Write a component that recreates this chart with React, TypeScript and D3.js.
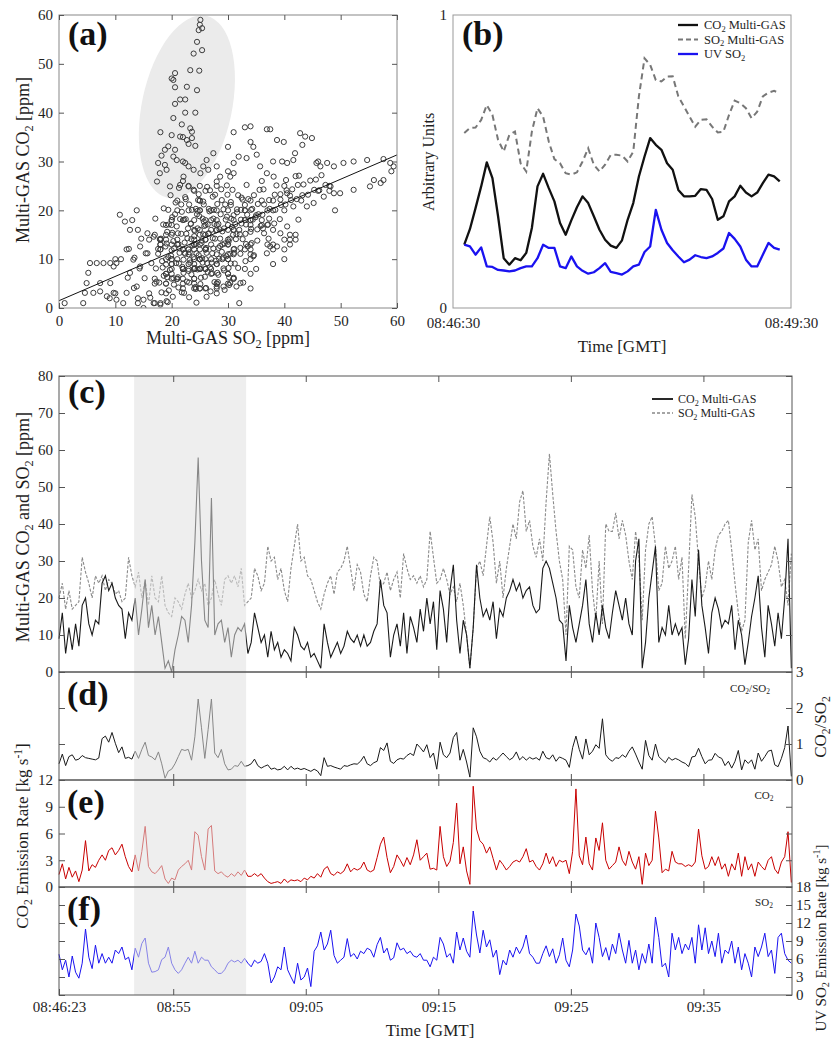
import React, { useEffect, useRef } from 'react';
import * as d3 from 'd3';

const FONT = '"Liberation Serif", "Times New Roman", Times, serif';
const INK = '#1e1e1e';
const W = 833;
const H = 1042;

// ---- panels (c)-(f): one sample every 15 s from 08:46:23 ----
const DAY = [2013, 0, 1] as const;
const START = '08:46:23';
const END = '09:41:41';
const STEP_S = 15;
const TICK_TIMES = ['08:55', '09:05', '09:15', '09:25', '09:35'];
const SHADE = ['08:52:03', '09:00:30'];

// (c) Multi-GAS CO2 [ppm]
const co2Ppm = [
  9, 16, 5, 12, 6, 13, 7, 18, 20, 13,
  10, 14, 13, 24, 26, 22, 24, 20, 18, 17,
  9, 16, 14, 20, 10, 17, 25, 12, 18, 10,
  15, 8, 1, 3, 0, 6, 10, 15, 14, 8,
  18, 35, 58, 30, 14, 12, 47, 10, 13, 14,
  8, 12, 4, 10, 12, 11, 13, 5, 8, 16,
  12, 8, 10, 4, 11, 6, 8, 4, 6, 5,
  3, 12, 10, 7, 6, 8, 4, 5, 3, 1,
  13, 8, 4, 6, 8, 5, 7, 11, 9, 8,
  10, 7, 10, 7, 8, 11, 13, 25, 18, 16,
  4, 10, 13, 7, 16, 5, 15, 12, 8, 17,
  11, 20, 13, 19, 6, 22, 17, 8, 22, 29,
  14, 5, 14, 10, 1, 12, 29, 20, 15, 17,
  14, 19, 9, 17, 15, 20, 22, 25, 22, 24,
  20, 22, 23, 18, 16, 17, 28, 30, 28, 24,
  20, 14, 13, 3, 18, 12, 8, 13, 18, 25,
  13, 8, 16, 10, 18, 12, 9, 16, 22, 18,
  14, 20, 13, 10, 30, 36, 1, 8, 20, 27,
  34, 8, 12, 10, 18, 10, 13, 10, 12, 2,
  9, 25, 15, 33, 18, 12, 5, 16, 20, 17,
  12, 14, 13, 18, 6, 14, 10, 2, 8, 15,
  20, 26, 12, 4, 18, 13, 7, 16, 9, 20,
  36, 1,
];

// (c) Multi-GAS SO2 [ppm]
const so2Ppm = [
  20, 24, 17, 22, 17, 18, 19, 31, 27, 24,
  20, 26, 24, 26, 22, 25, 24, 21, 22, 19,
  20, 31, 26, 23, 27, 20, 25, 18, 26, 20,
  19, 26, 18, 16, 15, 20, 19, 17, 21, 24,
  20, 22, 25, 22, 24, 18, 20, 25, 21, 18,
  25, 26, 24, 26, 23, 28, 18, 19, 20, 28,
  26, 22, 24, 34, 30, 31, 25, 28, 22, 19,
  28, 34, 40, 30, 31, 26, 25, 22, 19, 17,
  21, 24, 26, 21, 27, 28, 30, 34, 28, 22,
  29, 27, 21, 19, 26, 31, 30, 23, 24, 27,
  22, 25, 27, 20, 32, 28, 25, 26, 24, 26,
  23, 25, 38, 31, 24, 25, 28, 25, 21, 23,
  19, 24, 18, 10, 1, 12, 28, 30, 26, 34,
  42, 35, 24, 30, 20, 28, 34, 40, 36, 46,
  49, 38, 41, 34, 31, 36, 30, 46, 59, 48,
  38, 30, 25, 10, 34, 33, 23, 20, 33, 28,
  37, 22, 14, 30, 13, 40, 38, 38, 43, 36,
  41, 37, 30, 25, 38, 31, 14, 33, 40, 42,
  34, 22, 24, 34, 28, 30, 34, 25, 31, 9,
  28, 48, 42, 30, 20, 23, 30, 25, 33, 37,
  38, 40, 41, 33, 24, 16, 11, 14, 35, 41,
  33, 36, 22, 25, 27, 29, 34, 30, 23, 25,
  18, 32,
];

// (d) CO2/SO2
const ratio = [
  0.45, 0.72, 0.40, 0.65, 0.70, 0.55, 0.58, 0.68, 0.62, 0.60,
  0.58, 0.56, 0.61, 1.15, 1.22, 1.05, 1.32, 1.02, 0.76, 0.92,
  0.60, 0.63, 0.58, 0.80, 0.60, 0.85, 1.05, 0.68, 0.64, 0.56,
  0.78, 0.45, 0.05, 0.25, 0.30, 0.45, 0.65, 0.85, 0.82, 0.85,
  0.55, 1.20, 2.25, 1.45, 0.60, 1.40, 2.25, 0.75, 0.62, 0.85,
  0.45, 0.28, 0.30, 0.40, 0.38, 0.52, 0.38, 0.40, 0.45, 0.58,
  0.40, 0.33, 0.38, 0.42, 0.30, 0.33, 0.28, 0.30, 0.38, 0.28,
  0.38, 0.30, 0.33, 0.29, 0.32, 0.28, 0.24, 0.30, 0.25, 0.12,
  0.62, 0.38, 0.40, 0.36, 0.33, 0.30, 0.40, 0.38, 0.42, 0.45,
  0.44, 0.52, 0.66, 0.45, 0.40, 0.48, 0.52, 0.90, 0.82, 1.03,
  0.52, 0.46, 0.56, 0.60, 0.58, 0.68, 0.74, 0.68, 1.00, 0.90,
  0.78, 0.98, 0.62, 0.75, 0.30, 1.05, 0.70, 0.62, 0.75, 1.18,
  1.32, 0.55, 0.85, 0.50, 0.08, 1.45, 1.20, 0.80, 0.62, 0.58,
  0.50, 0.62, 0.55, 0.65, 0.75, 0.65, 0.56, 0.62, 0.78, 0.56,
  0.65, 0.55, 0.63, 0.58, 0.62, 0.55, 0.80, 0.62, 0.58, 0.70,
  0.52, 0.64, 0.60, 0.55, 0.35, 0.90, 1.22, 0.85, 0.58, 1.14,
  0.70, 0.80, 0.98, 0.88, 1.70, 0.70, 0.58, 0.52, 0.62, 0.60,
  0.70, 0.63, 0.80, 0.92, 0.72, 0.50, 0.30, 1.10, 0.68, 0.55,
  1.00, 0.65, 0.56, 0.48, 0.63, 0.55, 0.60, 0.56, 0.50, 0.46,
  0.37, 0.64, 0.66, 0.88, 0.65, 0.45, 0.55, 0.56, 0.74, 0.64,
  0.60, 0.40, 0.52, 0.33, 0.52, 0.82, 0.28, 0.56, 0.46, 0.56,
  0.30, 0.75, 0.52, 0.65, 0.80, 0.83, 0.42, 0.37, 0.60, 0.90,
  1.50, 0.10,
];

// (e) CO2 emission rate [kg/s]
const co2Flux = [
  1.4, 2.6, 0.9, 2.2, 1.1, 1.8, 0.6, 1.9, 5.2, 1.8,
  2.5, 2.2, 3.0, 3.6, 3.0, 4.1, 4.4, 3.6, 4.1, 4.8,
  3.4, 2.3, 1.7, 3.6, 1.8, 4.0, 6.8, 2.3, 1.7, 1.5,
  1.9, 2.4, 0.9, 0.4, 1.0, 0.8, 1.9, 2.3, 2.6, 3.0,
  1.9, 6.2, 5.8, 3.4, 1.9, 6.5, 6.9, 1.8, 1.5, 1.7,
  1.3, 1.1, 1.5, 1.2, 1.7, 1.3, 1.9, 1.2, 1.2, 1.5,
  1.2, 1.5, 1.0, 0.6, 0.4, 0.5, 0.6, 0.4, 0.9, 0.5,
  0.8, 0.7, 0.8, 0.6, 1.0, 0.8, 1.2, 1.0, 1.5, 1.1,
  2.0, 2.3, 1.5, 1.3, 1.7, 1.5, 1.8, 2.6, 1.7, 2.1,
  1.9, 2.1, 2.8, 1.9, 1.7, 1.9, 3.3, 4.8, 5.6, 3.3,
  1.6, 2.3, 3.6, 3.0, 2.3, 3.3, 2.5, 3.6, 5.3, 3.0,
  3.4, 3.8, 2.0, 2.1, 1.9, 6.8, 3.4, 2.3, 2.9, 5.0,
  9.4, 2.6, 4.5, 1.8, 0.3, 11.3, 6.5, 5.2, 4.8, 3.8,
  4.5, 3.2, 1.9, 3.0, 2.5, 1.9, 2.3, 2.8, 3.0, 2.8,
  3.4, 4.3, 2.8, 3.0, 2.3, 1.9, 2.6, 3.8, 2.6, 3.4,
  2.3, 3.0, 2.8, 3.0, 1.5, 4.0, 11.0, 3.5, 2.5, 5.6,
  2.6, 1.9, 5.5, 4.1, 7.2, 3.0, 2.0, 2.4, 2.8, 4.5,
  3.0, 2.4, 4.0, 2.8, 2.0, 3.4, 0.3, 3.8, 2.4, 3.0,
  8.5, 5.5, 1.6, 2.0, 1.8, 4.0, 2.8, 2.6, 2.6, 2.3,
  2.5, 2.3, 2.8, 6.5, 3.5, 2.0, 2.3, 3.4, 2.4, 3.4,
  2.0, 2.6, 1.2, 2.6, 1.9, 3.8, 1.2, 3.4, 1.9, 2.6,
  1.2, 2.8, 2.3, 1.9, 3.0, 3.4, 2.0, 1.5, 2.8, 3.4,
  6.2, 0.5,
];

// (f) UV SO2 emission rate [kg/s]
const so2Flux = [
  6.8, 4.2, 5.8, 3.0, 6.5, 3.8, 2.8, 5.3, 11.0, 6.3,
  4.4, 8.3, 5.3, 6.9, 5.3, 6.3, 5.3, 7.5, 6.9, 8.0,
  5.9, 6.3, 4.2, 7.8, 6.3, 8.6, 9.5, 5.3, 3.8, 3.9,
  4.2, 5.9, 6.3, 8.0, 5.3, 4.2, 3.6, 4.2, 5.3, 6.3,
  5.3, 7.3, 5.3, 6.3, 5.8, 5.8, 4.7, 4.2, 3.6, 3.6,
  4.2, 5.3, 5.8, 5.5, 5.8, 5.3, 6.1, 5.3, 4.7, 5.8,
  5.3, 5.6, 6.9, 5.3, 2.0, 3.0, 4.7, 4.2, 8.0, 4.2,
  3.0, 1.9, 5.3, 2.5, 3.0, 4.5, 1.4, 7.3, 8.2, 10.5,
  7.5, 8.5, 10.8, 6.6, 5.3, 5.8, 6.3, 9.4, 6.4, 6.9,
  6.0, 7.3, 6.9, 7.8, 7.5, 6.3, 8.4, 9.6, 7.0, 7.8,
  5.8, 6.2, 8.7, 7.5, 7.8, 6.9, 7.3, 6.5, 6.3, 6.9,
  5.8, 5.8, 4.7, 6.3, 5.8, 9.6, 8.5, 6.3, 6.9, 5.3,
  10.5, 7.5, 9.5, 7.3, 6.3, 14.0, 10.0, 7.0, 10.8, 8.0,
  9.2, 6.3, 7.5, 3.4, 5.8, 5.0, 7.5, 6.3, 8.0, 6.9,
  8.0, 10.0, 6.9, 6.3, 5.3, 5.3, 6.9, 8.2, 6.4, 7.7,
  5.3, 6.7, 9.5, 5.8, 4.7, 7.5, 13.5, 11.5, 7.5, 6.7,
  7.9, 5.3, 12.0, 9.6, 6.4, 7.9, 5.8, 8.5, 6.9, 10.3,
  7.5, 5.3, 9.1, 5.3, 7.5, 4.2, 6.9, 5.3, 8.5, 5.3,
  13.0, 9.6, 4.7, 5.3, 3.0, 10.3, 7.5, 9.6, 6.9, 8.5,
  7.5, 9.6, 5.3, 11.7, 7.5, 11.2, 6.9, 9.0, 6.4, 10.3,
  5.3, 7.5, 6.9, 9.0, 5.3, 8.0, 4.2, 6.9, 5.3, 3.0,
  8.0, 6.4, 8.0, 10.3, 6.4, 7.5, 3.6, 9.6, 10.3, 6.9,
  5.8, 5.3,
];

// ---- panel (b): seconds after 08:46:30, one sample every 3 s from 6 s ----
const B_FIRST_S = 6;
const B_STEP_S = 3;
const bCo2 = [
  0.216, 0.269, 0.341, 0.415, 0.497, 0.443, 0.313, 0.170, 0.148, 0.170,
  0.163, 0.188, 0.273, 0.415, 0.458, 0.409, 0.364, 0.290, 0.250, 0.299,
  0.344, 0.381, 0.358, 0.313, 0.267, 0.233, 0.213, 0.205, 0.231, 0.301,
  0.358, 0.449, 0.517, 0.580, 0.557, 0.540, 0.494, 0.472, 0.403, 0.381,
  0.381, 0.383, 0.406, 0.403, 0.372, 0.301, 0.313, 0.364, 0.381, 0.417,
  0.394, 0.381, 0.394, 0.426, 0.455, 0.449, 0.432,
];
const bSo2 = [
  0.597, 0.614, 0.616, 0.642, 0.693, 0.659, 0.574, 0.534, 0.591, 0.602,
  0.494, 0.466, 0.602, 0.682, 0.653, 0.568, 0.508, 0.494, 0.460, 0.455,
  0.463, 0.500, 0.545, 0.489, 0.466, 0.489, 0.522, 0.523, 0.520, 0.500,
  0.534, 0.722, 0.852, 0.830, 0.778, 0.773, 0.790, 0.791, 0.722, 0.688,
  0.653, 0.619, 0.642, 0.644, 0.619, 0.599, 0.602, 0.659, 0.708, 0.699,
  0.682, 0.648, 0.670, 0.722, 0.735, 0.741, 0.733,
];
const bUv = [
  0.216, 0.210, 0.182, 0.207, 0.142, 0.140, 0.130, 0.128, 0.125, 0.128,
  0.136, 0.142, 0.142, 0.170, 0.216, 0.205, 0.205, 0.142, 0.136, 0.176,
  0.142, 0.127, 0.117, 0.122, 0.136, 0.153, 0.123, 0.119, 0.114, 0.125,
  0.142, 0.148, 0.191, 0.210, 0.335, 0.267, 0.222, 0.197, 0.176, 0.156,
  0.165, 0.180, 0.174, 0.170, 0.176, 0.188, 0.203, 0.256, 0.236, 0.210,
  0.165, 0.142, 0.142, 0.182, 0.222, 0.205, 0.199,
];

// ---- panel (a): extra scatter points [SO2, CO2] besides the (c) pairs ----
const FIT = { intercept: 1.5, slope: 0.4975 };
const ELLIPSE_CENTER = [22.7, 41.2];
const scatterCloud: [number, number][] = [
  [10.8, 19.1], [13.8, 20], [11.7, 17.7], [12.6, 16], [5.5, 9.2], [6.7, 9.2], [7.9, 9.2], [9.1, 9.2],
  [9.7, 8.5], [10.2, 9.2], [5.2, 7.2], [4.9, 5.1], [4.6, 3.1], [4.3, 1], [6.1, 3.1], [7.3, 3.4],
  [8.5, 2.4], [9.7, 3.1], [10.2, 1.7], [11.4, 1], [12, 3.1], [9.1, 5.1], [7.3, 5.1], [12.6, 7.2],
  [13.2, 9.9], [14.4, 12.6], [15.7, 15.3], [15.7, 11.2], [14.4, 8.5], [13.8, 4.4], [15, 1.7], [16.8, 1],
  [18, 0.7], [19.1, 1.4],
  [33, 37], [34, 37.2], [36.9, 36.6], [37.5, 36.6], [38.7, 34.4], [39.9, 34], [42.8, 35.8], [43.7, 35.1],
  [44.9, 34.8], [43.2, 33.4], [41.9, 31.7], [40.5, 29.7], [39.6, 30], [34.5, 33], [35.1, 31.4], [33.3, 30.7],
  [31.9, 31], [31, 29.7], [35.7, 29], [36.9, 27.6], [38.1, 26.9], [41.6, 30.3], [45.7, 29.7], [46.4, 29],
  [47.6, 29.7], [48.8, 29], [50.5, 29.7], [52.3, 30], [54.7, 30.3], [57.6, 30.5], [58.8, 29.7], [59.4, 29],
  [55.9, 26.2], [57.1, 25.6], [57.6, 26.2], [55.2, 24.9], [52.3, 24.2], [49.9, 23.5], [48.8, 23.5], [48.2, 24.9],
  [47, 22.8], [45.2, 21.5], [44, 20.8], [42.5, 18.1], [41.6, 20.8], [40.5, 23.5], [39.3, 22.2], [40.5, 16.7],
  [39.3, 15.3], [38.7, 12.6], [37.5, 12.6], [36.9, 11.2], [34.5, 10.6], [32.2, 5.1], [31.5, 4.4], [30.4, 5.1],
  [29.2, 4.4], [28, 4.4],
  [25.1, 59], [25.4, 57.3], [24.8, 56.9], [24.5, 54.5], [23.9, 52.1], [25.4, 52.8], [23.3, 48.7], [24.9, 48.6],
  [20.6, 48.1], [20.3, 46.7], [20.6, 45.2], [22.7, 45.3], [21.5, 42.7], [22.4, 42.7], [24.5, 44.6], [20.6, 41.8],
  [22.4, 40], [24.2, 40], [20.3, 38.9], [21.8, 37.6], [23.3, 36.8], [23.6, 36.1], [20, 35.4], [21.5, 35.1],
  [22.7, 34.4], [23.6, 34.8], [23, 33.6], [24.2, 33.2], [19.4, 33.1], [18.8, 32.4], [20.6, 32.4], [18.2, 31.2],
  [20.3, 31], [17.6, 29.7], [18.8, 29.3], [20.9, 30.3], [22.4, 29.7], [26.2, 30.3], [27.4, 31.7], [25.6, 29],
  [23.9, 28.3], [19.1, 28.3], [17.9, 27.6], [17.4, 25.9], [22.1, 26.9], [25.1, 27.6], [26.5, 28.3], [19.7, 24.9],
  [21.5, 25.2], [23, 24.9], [28, 25.9], [28.6, 26.9], [30.4, 26.9], [31, 27.6],
  [16.4, 9.2], [16.8, 14.6], [17.3, 5.4], [17.1, 18.3], [17.6, 12.1], [18.2, 3.2], [18.4, 8.3], [18.1, 14.2],
  [18.6, 20.4], [19.2, 6.3], [19.4, 10.4], [19.1, 13.2], [19.5, 17.1], [20.2, 2.3], [20.3, 6.1], [20.4, 12.2],
  [20.1, 15.4], [20.6, 19.2], [21.2, 4.2], [21.3, 9.1], [21.4, 11.3], [21.1, 15.3], [21.5, 18.2], [21.7, 21.2],
  [22.2, 3.1], [22.1, 7.2], [22.4, 11.1], [22.3, 13.4], [22.6, 15.2], [22.2, 18.1], [22.5, 22.3], [23.1, 5.2],
  [23.3, 9.3], [23.2, 11.4], [23.5, 14.1], [23.4, 17.2], [23.6, 20.1], [24.2, 4.3], [24.1, 8.2], [24.4, 11.2],
  [24.3, 13.1], [24.6, 16.3], [24.5, 19.2], [24.7, 22.1], [25.2, 6.2], [25.1, 8.1], [25.4, 10.2], [25.3, 13.3],
  [25.6, 15.1], [25.5, 18.3], [25.7, 21.2], [26.1, 4.1], [26.3, 9.2], [26.2, 11.3], [26.5, 15.2], [26.4, 17.1],
  [26.6, 20.3], [26.8, 24.1], [27.2, 7.1], [27.1, 9.3], [27.4, 12.2], [27.3, 14.3], [27.6, 17.2], [27.5, 20.1],
  [27.7, 23.2], [28.2, 5.3], [28.1, 7.2], [28.4, 10.1], [28.3, 12.3], [28.6, 14.2], [28.5, 16.1], [28.7, 19.2],
  [28.9, 22.1], [29.2, 8.1], [29.1, 10.3], [29.4, 13.2], [29.3, 16.3], [29.6, 18.1], [29.5, 21.2], [29.8, 25.1],
  [30.2, 6.3], [30.1, 8.2], [30.4, 11.1], [30.3, 14.2], [30.6, 18.3], [30.5, 21.1], [30.8, 24.2], [31.2, 9.1],
  [31.1, 11.3], [31.4, 14.1], [31.3, 17.2], [31.6, 20.2], [31.8, 23.1], [32.2, 12.3], [32.1, 15.1], [32.4, 17.3],
  [32.3, 20.1], [32.6, 22.2], [33.2, 13.1], [33.1, 15.2], [33.4, 19.1], [33.6, 22.3], [33.3, 25.2], [34.2, 13.3],
  [34.1, 16.2], [34.4, 18.1], [34.3, 20.3], [34.6, 23.1], [35.2, 16.1], [35.4, 19.2], [35.3, 21.3], [35.6, 24.2],
  [36.2, 16.3], [36.1, 19.1], [36.4, 21.2], [36.3, 24.3], [37.2, 14.2], [37.1, 17.1], [37.4, 20.3], [37.3, 22.1],
  [38.2, 17.3], [38.4, 20.1], [38.3, 23.2], [38.6, 25.1], [39.2, 18.2], [39.4, 21.1], [39.3, 23.3], [40.2, 21.2],
  [40.4, 24.1], [40.3, 26.2], [41.2, 22.1], [41.4, 24.3], [42.2, 22.3], [42.4, 25.2], [42.6, 27.1], [43.2, 23.1],
  [43.4, 25.3], [44.2, 23.2], [44.6, 26.1], [45.3, 24.2], [45.6, 26.3], [46.2, 24.1], [46.6, 27.2], [47.3, 25.2],
  [15.2, 6.1], [15.4, 11.2], [14.3, 8.1], [14.6, 14.2], [13.4, 10.3], [12.4, 12.1], [12.2, 6.2], [13.3, 4.1],
  [16.2, 2.1], [19.3, 1.2], [23.1, 2.2], [26.2, 2.3], [24.4, 1.1],
];

// dense core of the cloud [SO2, CO2]
const scatterCore: [number, number][] = [
  [19.5, 3.6], [21.8, 3.2], [24.3, 3.9], [26.9, 3.4], [29.4, 3.7],
  [17.8, 5.2], [20.4, 4.8], [22.7, 5.4], [25.1, 4.9], [27.6, 5.3], [30.2, 4.7], [32.7, 5.2],
  [18.6, 6.6], [21.1, 6.3], [23.5, 6.9], [25.9, 6.4], [28.3, 6.8], [31.0, 6.2],
  [17.2, 8.1], [19.7, 7.8], [21.9, 8.4], [24.6, 7.9], [26.8, 8.3], [29.3, 7.7], [31.8, 8.2],
  [18.3, 9.6], [20.8, 9.2], [23.2, 9.8], [25.5, 9.3], [27.9, 9.7], [30.5, 9.1], [33.1, 9.6],
  [17.6, 11.1], [19.9, 10.7], [22.3, 11.3], [24.8, 10.8], [27.2, 11.2], [29.7, 10.6], [32.2, 11.1], [34.6, 10.8],
  [18.9, 12.6], [21.4, 12.2], [23.7, 12.8], [26.1, 12.3], [28.6, 12.7], [31.1, 12.1], [33.5, 12.6],
  [17.9, 14.1], [20.3, 13.7], [22.8, 14.3], [25.3, 13.8], [27.7, 14.2], [30.1, 13.6], [32.6, 14.1], [35.2, 13.8],
  [19.2, 15.6], [21.7, 15.2], [24.1, 15.8], [26.6, 15.3], [29.0, 15.7], [31.5, 15.1], [34.0, 15.6], [36.4, 15.3],
  [18.5, 17.1], [20.9, 16.7], [23.4, 17.3], [25.8, 16.8], [28.3, 17.2], [30.7, 16.6], [33.2, 17.1], [35.8, 16.8],
  [20.1, 18.6], [22.5, 18.2], [24.9, 18.8], [27.4, 18.3], [29.8, 18.7], [32.3, 18.1], [34.9, 18.6], [37.3, 18.3],
  [19.4, 20.1], [21.8, 19.7], [24.3, 20.3], [26.7, 19.8], [29.2, 20.2], [31.6, 19.6], [34.1, 20.1],
  [20.7, 21.6], [23.1, 21.2], [25.6, 21.8], [28.1, 21.3], [30.5, 21.7], [33.0, 21.1],
  [19.8, 23.1], [22.4, 22.7], [24.8, 23.3], [27.3, 22.8], [29.9, 23.2], [32.4, 22.6],
  [21.3, 24.6], [23.9, 24.2], [26.3, 24.8], [28.8, 24.3],
  [20.9, 5.9], [23.9, 10.4], [22.1, 9.9], [21.2, 13.1], [25.0, 12.0], [26.4, 7.4], [24.0, 14.7], [22.9, 16.3],
  [27.9, 15.9], [20.0, 11.8], [23.0, 7.6], [25.7, 17.7], [19.0, 8.9], [28.9, 11.5], [30.9, 15.0], [24.6, 19.9],
];

type Seg = [string, ('sub' | 'sup')?];
type Sel = d3.Selection<any, any, any, any>;

const at = (hms: string) => {
  const [h, m, s = '0'] = hms.split(':');
  return new Date(DAY[0], DAY[1], DAY[2], +h, +m, +s);
};

// text with chemical subscripts / unit superscripts as tspans
function rich(parent: Sel, segs: Seg[], fs: number, weight = 'normal') {
  const t = parent.append('text')
    .attr('font-family', FONT).attr('font-size', fs)
    .attr('font-weight', weight).attr('fill', INK);
  let shift = 0;
  segs.forEach(([s, kind]) => {
    const ts = t.append('tspan').text(s);
    const target = kind === 'sub' ? fs * 0.22 : kind === 'sup' ? -fs * 0.38 : 0;
    if (kind) ts.attr('font-size', fs * 0.68);
    if (target !== shift) {
      ts.attr('dy', target - shift);
      shift = target;
    }
  });
  return t;
}

function styleAxis(g: Sel, fs = 15) {
  g.select('.domain').remove();
  g.selectAll('.tick line').attr('stroke', '#555').attr('stroke-width', 1);
  g.selectAll('.tick text').attr('font-family', FONT).attr('font-size', fs).attr('fill', INK);
}

function panelLetter(svg: Sel, label: string, x: number, y: number) {
  svg.append('text').attr('x', x).attr('y', y)
    .attr('font-family', FONT).attr('font-size', 34).attr('font-weight', 'bold')
    .attr('fill', '#111').text(label);
}

export default function App() {
  const ref = useRef<SVGSVGElement>(null);

  useEffect(() => {
    const svg = d3.select(ref.current);
    svg.selectAll('*').remove();
    svg.append('rect').attr('width', W).attr('height', H).attr('fill', '#fff');

    // ================= (a) scatter =================
    const ax = d3.scaleLinear().domain([0, 60]).range([59, 397]);
    const ay = d3.scaleLinear().domain([0, 60]).range([308, 15]);
    const ga = svg.append('g');
    ga.append('clipPath').attr('id', 'clipA').append('rect')
      .attr('x', 59).attr('y', 15).attr('width', 338).attr('height', 293);
    ga.append('ellipse')
      .attr('transform', `translate(${ax(ELLIPSE_CENTER[0])},${ay(ELLIPSE_CENTER[1])}) rotate(12)`)
      .attr('rx', 45).attr('ry', 93).attr('fill', '#ebebeb');

    const pts: [number, number][] = [
      ...co2Ppm.map((c, i) => [so2Ppm[i], c] as [number, number]),
      ...scatterCloud,
      ...scatterCore,
    ];
    ga.append('g').attr('clip-path', 'url(#clipA)')
      .selectAll('circle').data(pts).join('circle')
      .attr('cx', d => ax(d[0])).attr('cy', d => ay(d[1])).attr('r', 2.6)
      .attr('fill', 'none').attr('stroke', '#3c3c3c').attr('stroke-width', 1);

    ga.append('line')
      .attr('x1', ax(0)).attr('y1', ay(FIT.intercept))
      .attr('x2', ax(60)).attr('y2', ay(FIT.intercept + FIT.slope * 60))
      .attr('stroke', '#111').attr('stroke-width', 1);

    ga.append('rect').attr('x', 59).attr('y', 15).attr('width', 338).attr('height', 293)
      .attr('fill', 'none').attr('stroke', '#888');

    const aTicks = d3.range(0, 61, 10);
    styleAxis(ga.append('g').attr('transform', 'translate(0,308)')
      .call(d3.axisBottom(ax).tickValues(aTicks).tickSizeInner(-5).tickSizeOuter(0).tickPadding(7)));
    styleAxis(ga.append('g').attr('transform', 'translate(59,0)')
      .call(d3.axisLeft(ay).tickValues(aTicks).tickSizeInner(-5).tickSizeOuter(0).tickPadding(6)));
    styleAxis(ga.append('g').attr('transform', 'translate(0,15)')
      .call(d3.axisTop(ax).tickValues(aTicks).tickSizeInner(-5).tickSizeOuter(0).tickFormat(() => '')));
    styleAxis(ga.append('g').attr('transform', 'translate(397,0)')
      .call(d3.axisRight(ay).tickValues(aTicks).tickSizeInner(-5).tickSizeOuter(0).tickFormat(() => '')));

    rich(ga, [['Multi-GAS SO'], ['2', 'sub'], [' [ppm]']], 18)
      .attr('x', 228).attr('y', 344).attr('text-anchor', 'middle');
    rich(ga, [['Multi-GAS CO'], ['2', 'sub'], [' [ppm]']], 18)
      .attr('text-anchor', 'middle').attr('transform', 'translate(29,160) rotate(-90)');
    panelLetter(svg, '(a)', 68, 45);

    // ================= (b) normalised traces =================
    const bx = d3.scaleLinear().domain([0, 180]).range([453, 791]);
    const by = d3.scaleLinear().domain([0, 1]).range([308, 15]);
    const gb = svg.append('g');
    gb.append('rect').attr('x', 453).attr('y', 15).attr('width', 338).attr('height', 293)
      .attr('fill', 'none').attr('stroke', '#999');
    const bLine = d3.line<number>()
      .x((_, i) => bx(B_FIRST_S + i * B_STEP_S)).y(d => by(d));
    gb.append('path').attr('d', bLine(bSo2)!).attr('fill', 'none')
      .attr('stroke', '#777').attr('stroke-width', 2).attr('stroke-dasharray', '6,4');
    gb.append('path').attr('d', bLine(bCo2)!).attr('fill', 'none')
      .attr('stroke', '#111').attr('stroke-width', 2.3).attr('stroke-linejoin', 'round');
    gb.append('path').attr('d', bLine(bUv)!).attr('fill', 'none')
      .attr('stroke', '#1a12f0').attr('stroke-width', 2.3).attr('stroke-linejoin', 'round');

    styleAxis(gb.append('g').attr('transform', 'translate(453,0)')
      .call(d3.axisLeft(by).tickValues([0, 1]).tickSize(0).tickPadding(6).tickFormat(d3.format('d'))));
    styleAxis(gb.append('g').attr('transform', 'translate(0,308)')
      .call(d3.axisBottom(bx).tickValues([0, 180]).tickSize(0).tickPadding(9)
        .tickFormat(d => (d === 0 ? '08:46:30' : '08:49:30'))));

    const legB: { segs: Seg[]; color: string; dash: string | null; w: number }[] = [
      { segs: [['CO'], ['2', 'sub'], [' Multi-GAS']], color: '#111', dash: null, w: 2.3 },
      { segs: [['SO'], ['2', 'sub'], [' Multi-GAS']], color: '#777', dash: '5,3', w: 2 },
      { segs: [['UV SO'], ['2', 'sub']], color: '#1a12f0', dash: null, w: 2.3 },
    ];
    legB.forEach((l, k) => {
      const y = 25 + k * 14.5;
      gb.append('line').attr('x1', 678).attr('x2', 698).attr('y1', y).attr('y2', y)
        .attr('stroke', l.color).attr('stroke-width', l.w).attr('stroke-dasharray', l.dash);
      rich(gb, l.segs, 12.5).attr('x', 704).attr('y', y + 4);
    });
    rich(gb, [['Time [GMT]']], 17).attr('x', 622).attr('y', 352).attr('text-anchor', 'middle');
    rich(gb, [['Arbitrary Units']], 16)
      .attr('text-anchor', 'middle').attr('transform', 'translate(434,162) rotate(-90)');
    panelLetter(svg, '(b)', 462, 45);

    // ================= (c)-(f) time series =================
    const times = co2Ppm.map((_, i) => new Date(at(START).getTime() + i * STEP_S * 1000));
    const tx = d3.scaleTime().domain([at(START), at(END)]).range([59, 792]);
    const L = 59, R = 792;
    const panels = [
      { top: 376, bottom: 672, max: 80, step: 10 },
      { top: 672, bottom: 780, max: 3, step: 1 },
      { top: 780, bottom: 887, max: 12, step: 3 },
      { top: 887, bottom: 995, max: 18, step: 3 },
    ].map(p => ({ ...p, y: d3.scaleLinear().domain([0, p.max]).range([p.bottom, p.top]) }));
    const [pc, pd, pe, pf] = panels;
    const gt = svg.append('g');

    const series = (vals: number[], y: d3.ScaleLinear<number, number>) =>
      d3.line<number>().x((_, i) => tx(times[i])).y(d => y(d))(vals)!;

    gt.append('path').attr('d', series(so2Ppm, pc.y)).attr('fill', 'none')
      .attr('stroke', '#8a8a8a').attr('stroke-width', 1.1).attr('stroke-dasharray', '3,1.6');
    gt.append('path').attr('d', series(co2Ppm, pc.y)).attr('fill', 'none')
      .attr('stroke', '#1a1a1a').attr('stroke-width', 1.1);
    gt.append('path').attr('d', series(ratio, pd.y)).attr('fill', 'none')
      .attr('stroke', '#1a1a1a').attr('stroke-width', 1);
    gt.append('path').attr('d', series(co2Flux, pe.y)).attr('fill', 'none')
      .attr('stroke', '#c80000').attr('stroke-width', 1);
    gt.append('path').attr('d', series(so2Flux, pf.y)).attr('fill', 'none')
      .attr('stroke', '#1a12f0').attr('stroke-width', 1);

    // shaded interval washes out the traces beneath it
    gt.append('rect')
      .attr('x', tx(at(SHADE[0]))).attr('width', tx(at(SHADE[1])) - tx(at(SHADE[0])))
      .attr('y', pc.top).attr('height', pf.bottom - pc.top)
      .attr('fill', '#e0e0e0').attr('opacity', 0.55);

    const xTickVals = TICK_TIMES.map(at);
    const fmt = d3.timeFormat('%H:%M');
    panels.forEach((p, k) => {
      gt.append('rect').attr('x', L).attr('y', p.top).attr('width', R - L).attr('height', p.bottom - p.top)
        .attr('fill', 'none').attr('stroke', '#555');
      styleAxis(gt.append('g').attr('transform', `translate(0,${p.top})`)
        .call(d3.axisTop(tx).tickValues(xTickVals).tickSizeInner(-6).tickSizeOuter(0).tickFormat(() => '')));
      const last = k === panels.length - 1;
      styleAxis(gt.append('g').attr('transform', `translate(0,${p.bottom})`)
        .call(d3.axisBottom(tx).tickValues(last ? [at(START), ...xTickVals] : xTickVals)
          .tickSizeInner(-6).tickSizeOuter(0).tickPadding(6)
          .tickFormat(d => (!last ? '' : (d as Date).getTime() === at(START).getTime() ? START : fmt(d as Date)))));
      const yt = d3.range(0, p.max + 0.001, p.step);
      const leftLabels = k === 0 || k === 2;
      const rightLabels = k === 1 || k === 3;
      styleAxis(gt.append('g').attr('transform', `translate(${L},0)`)
        .call(d3.axisLeft(p.y).tickValues(yt).tickSizeInner(-6).tickSizeOuter(0).tickPadding(6)
          .tickFormat(d => (leftLabels ? String(d) : ''))));
      styleAxis(gt.append('g').attr('transform', `translate(${R},0)`)
        .call(d3.axisRight(p.y).tickValues(yt).tickSizeInner(-6).tickSizeOuter(0).tickPadding(4)
          .tickFormat(d => (rightLabels ? String(d) : ''))));
    });

    // legend (c)
    const legC: { segs: Seg[]; color: string; dash: string | null; w: number }[] = [
      { segs: [['CO'], ['2', 'sub'], [' Multi-GAS']], color: '#111', dash: null, w: 1.8 },
      { segs: [['SO'], ['2', 'sub'], [' Multi-GAS']], color: '#888', dash: '3,2', w: 1.3 },
    ];
    legC.forEach((l, k) => {
      const y = 399 + k * 14;
      gt.append('line').attr('x1', 652).attr('x2', 673).attr('y1', y).attr('y2', y)
        .attr('stroke', l.color).attr('stroke-width', l.w).attr('stroke-dasharray', l.dash);
      rich(gt, l.segs, 12).attr('x', 678).attr('y', y + 4);
    });

    rich(gt, [['CO'], ['2', 'sub'], ['/SO'], ['2', 'sub']], 11).attr('x', 750).attr('y', 692).attr('text-anchor', 'middle');
    rich(gt, [['CO'], ['2', 'sub']], 11).attr('x', 764).attr('y', 799).attr('text-anchor', 'middle');
    rich(gt, [['SO'], ['2', 'sub']], 11).attr('x', 764).attr('y', 906).attr('text-anchor', 'middle');

    rich(gt, [['Multi-GAS CO'], ['2', 'sub'], [' and SO'], ['2', 'sub'], [' [ppm]']], 18)
      .attr('text-anchor', 'middle').attr('transform', 'translate(29,527) rotate(-90)');
    rich(gt, [['CO'], ['2', 'sub'], [' Emission Rate [kg s'], ['-1', 'sup'], [']']], 17)
      .attr('text-anchor', 'middle').attr('transform', 'translate(28,836) rotate(-90)');
    rich(gt, [['CO'], ['2', 'sub'], ['/SO'], ['2', 'sub']], 17)
      .attr('text-anchor', 'middle').attr('transform', 'translate(826,727) rotate(-90)');
    rich(gt, [['UV SO'], ['2', 'sub'], [' Emission Rate [kg s'], ['-1', 'sup'], [']']], 15)
      .attr('text-anchor', 'middle').attr('transform', 'translate(826,938) rotate(-90)');
    rich(gt, [['Time [GMT]']], 17).attr('x', 430).attr('y', 1036).attr('text-anchor', 'middle');

    panelLetter(svg, '(c)', 68, 403);
    panelLetter(svg, '(d)', 67, 705);
    panelLetter(svg, '(e)', 67, 813);
    panelLetter(svg, '(f)', 67, 920);
  }, []);

  return (
    <svg
      ref={ref}
      width={W}
      height={H}
      style={{ position: 'absolute', left: 0, top: 0, display: 'block' }}
    />
  );
}
